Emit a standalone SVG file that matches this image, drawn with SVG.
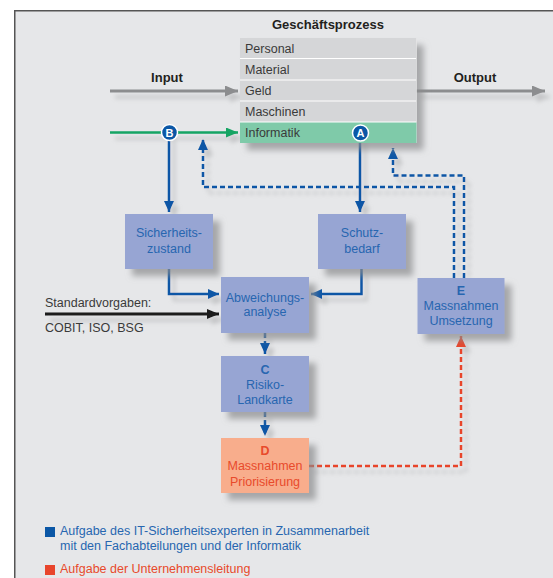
<svg xmlns="http://www.w3.org/2000/svg" width="553" height="578" viewBox="0 0 553 578">
<defs>
<style>
.t{font-family:"Liberation Sans",Arial,sans-serif;}
.row{fill:#d5d6d8;}
.rowtxt{font-family:"Liberation Sans",Arial,sans-serif;font-size:12.5px;fill:#3a3a3a;}
.hd{font-family:"Liberation Sans",Arial,sans-serif;font-size:13px;font-weight:bold;fill:#231f20;}
.box{fill:#97a5d3;}
.btx{font-family:"Liberation Sans",Arial,sans-serif;font-size:12.5px;fill:#2766b0;text-anchor:middle;}
.rtx{font-family:"Liberation Sans",Arial,sans-serif;font-size:12.5px;fill:#e84a2b;text-anchor:middle;}
.lbl{font-family:"Liberation Sans",Arial,sans-serif;font-size:12.5px;fill:#3a3a3a;}
.blue{fill:none;stroke:#0b57a6;stroke-width:2.5;}
.bdash{fill:none;stroke:#0b57a6;stroke-width:2.5;stroke-dasharray:5 3;}
.rdash{fill:none;stroke:#e8452c;stroke-width:2.5;stroke-dasharray:5 3;}
.circ{fill:#0b57a6;stroke:#ffffff;stroke-width:1.5;}
.ctx{font-family:"Liberation Sans",Arial,sans-serif;font-size:11px;font-weight:bold;fill:#ffffff;text-anchor:middle;}
</style>
<filter id="sh" x="-20%" y="-20%" width="150%" height="150%">
<feGaussianBlur in="SourceAlpha" stdDeviation="3"/>
<feOffset dx="7" dy="7" result="b"/>
<feFlood flood-color="#8a8b8d" flood-opacity="0.7"/>
<feComposite in2="b" operator="in"/>
<feMerge><feMergeNode/><feMergeNode in="SourceGraphic"/></feMerge>
</filter>
<filter id="lsh" x="-10%" y="-50%" width="120%" height="300%">
<feGaussianBlur in="SourceAlpha" stdDeviation="2"/>
<feOffset dx="5" dy="6" result="b"/>
<feFlood flood-color="#9a9b9d" flood-opacity="0.45"/>
<feComposite in2="b" operator="in"/>
<feMerge><feMergeNode/><feMergeNode in="SourceGraphic"/></feMerge>
</filter>
<marker id="aBlue" markerUnits="userSpaceOnUse" markerWidth="11" markerHeight="10" refX="11" refY="5" orient="auto"><path d="M0,0 L11,5 L0,10 z" fill="#0b57a6"/></marker>
<marker id="aRed" markerUnits="userSpaceOnUse" markerWidth="11" markerHeight="10" refX="11" refY="5" orient="auto"><path d="M0,0 L11,5 L0,10 z" fill="#e8452c"/></marker>
<marker id="aGray" markerUnits="userSpaceOnUse" markerWidth="13" markerHeight="11" refX="13" refY="5.5" orient="auto"><path d="M0,0 L13,5.5 L0,11 z" fill="#8c8d8f"/></marker>
<marker id="aGreen" markerUnits="userSpaceOnUse" markerWidth="12" markerHeight="10" refX="12" refY="5" orient="auto"><path d="M0,0 L12,5 L0,10 z" fill="#13a463"/></marker>
<marker id="aBlack" markerUnits="userSpaceOnUse" markerWidth="12" markerHeight="10" refX="12" refY="5" orient="auto"><path d="M0,0 L12,5 L0,10 z" fill="#1a1a1a"/></marker>
</defs>

<rect x="0" y="0" width="553" height="578" fill="#ffffff"/>
<rect x="14" y="10" width="539" height="568" fill="#e6e7e9"/>
<path d="M14.75,578 L14.75,10.75 L553,10.75" fill="none" stroke="#555555" stroke-width="1.5"/>

<text class="hd" x="328" y="29" text-anchor="middle">Geschäftsprozess</text>
<text class="hd" x="167" y="82" text-anchor="middle">Input</text>
<text class="hd" x="475" y="82" text-anchor="middle">Output</text>

<g id="connectors">
<g filter="url(#lsh)">
<path d="M110,91 L238,91" fill="none" stroke="#8c8d8f" stroke-width="3" marker-end="url(#aGray)"/>
<path d="M416,91 L545,91" fill="none" stroke="#8c8d8f" stroke-width="3" marker-end="url(#aGray)"/>
<path d="M110,132.5 L238,132.5" fill="none" stroke="#13a463" stroke-width="2.5" marker-end="url(#aGreen)"/>
<path d="M169,133 L169,212" class="blue" marker-end="url(#aBlue)"/>
<path d="M360,133 L360,212" class="blue" marker-end="url(#aBlue)"/>
<path d="M169,269 L169,294 L219,294" class="blue" marker-end="url(#aBlue)"/>
<path d="M361.5,269 L361.5,294 L311,294" class="blue" marker-end="url(#aBlue)"/>
<path d="M45,314 L219,314" fill="none" stroke="#1a1a1a" stroke-width="3" marker-end="url(#aBlack)"/>
<path d="M265,333 L265,354" class="bdash" marker-end="url(#aBlue)"/>
<path d="M265,412 L265,436" class="bdash" marker-end="url(#aBlue)"/>
<path d="M309,466 L461,466 L461,336" class="rdash" marker-end="url(#aRed)"/>
<path d="M454,278 L454,187 L203,187 L203,139" class="bdash" marker-end="url(#aBlue)"/>
<path d="M464,278 L464,175.5 L393,175.5 L393,148" class="bdash" marker-end="url(#aBlue)"/>
</g>
</g>

<g id="geschaeftsprozess">
<rect x="240" y="38" width="176.5" height="105" fill="#ffffff" filter="url(#sh)"/>
<rect class="row" x="240" y="38" width="176.5" height="20"/>
<rect class="row" x="240" y="59" width="176.5" height="20.5"/>
<rect class="row" x="240" y="80.5" width="176.5" height="20"/>
<rect class="row" x="240" y="101.5" width="176.5" height="20"/>
<rect x="240" y="122.5" width="176.5" height="20.5" fill="#7fcaa9"/>
<text class="rowtxt" x="245" y="53">Personal</text>
<text class="rowtxt" x="245" y="74">Material</text>
<text class="rowtxt" x="245" y="95">Geld</text>
<text class="rowtxt" x="245" y="116">Maschinen</text>
<text class="rowtxt" x="245" y="137">Informatik</text>
</g>

<g id="marker-A">
<circle class="circ" cx="360.5" cy="133" r="8"/>
<text class="ctx" x="360.5" y="137">A</text>
</g>
<g id="marker-B">
<circle class="circ" cx="169.5" cy="132.5" r="8"/>
<text class="ctx" x="169.5" y="136.5">B</text>
</g>

<g id="sicherheitszustand">
<rect class="box" x="125" y="214" width="88" height="55" filter="url(#sh)"/>
<text class="btx" x="169" y="237">Sicherheits-</text>
<text class="btx" x="169" y="253">zustand</text>
</g>

<g id="schutzbedarf">
<rect class="box" x="318" y="214" width="88" height="55" filter="url(#sh)"/>
<text class="btx" x="362" y="237">Schutz-</text>
<text class="btx" x="362" y="253">bedarf</text>
</g>

<g id="abweichungsanalyse">
<rect class="box" x="221" y="277" width="88" height="56" filter="url(#sh)"/>
<text class="btx" x="265" y="302">Abweichungs-</text>
<text class="btx" x="265" y="316">analyse</text>
</g>

<g id="standardvorgaben">
<text class="lbl" x="45" y="307">Standardvorgaben:</text>
<text class="lbl" x="45" y="332">COBIT, ISO, BSG</text>
</g>

<g id="risiko-landkarte">
<rect class="box" x="221" y="356" width="88" height="56" filter="url(#sh)"/>
<text class="btx" x="265" y="374" font-weight="bold">C</text>
<text class="btx" x="265" y="389">Risiko-</text>
<text class="btx" x="265" y="404">Landkarte</text>
</g>

<g id="massnahmen-priorisierung">
<rect x="221" y="438" width="88" height="55" fill="#f8ad8c" filter="url(#sh)"/>
<text class="rtx" x="265" y="455" font-weight="bold">D</text>
<text class="rtx" x="265" y="470">Massnahmen</text>
<text class="rtx" x="265" y="486">Priorisierung</text>
</g>

<g id="massnahmen-umsetzung">
<rect class="box" x="417.5" y="278" width="87" height="56" filter="url(#sh)"/>
<text class="btx" x="461" y="295" font-weight="bold">E</text>
<text class="btx" x="461" y="310">Massnahmen</text>
<text class="btx" x="461" y="325">Umsetzung</text>
</g>

<g id="legend">
<rect x="45" y="527" width="10" height="10" fill="#0b57a6"/>
<text class="t" x="60" y="535" font-size="12.5" fill="#2766b0">Aufgabe des IT-Sicherheitsexperten in Zusammenarbeit</text>
<text class="t" x="60" y="549.5" font-size="12.5" fill="#2766b0">mit den Fachabteilungen und der Informatik</text>
<rect x="45" y="565" width="10" height="10" fill="#e8452c"/>
<text class="t" x="60" y="573" font-size="12.5" fill="#e84a2b">Aufgabe der Unternehmensleitung</text>
</g>
</svg>
